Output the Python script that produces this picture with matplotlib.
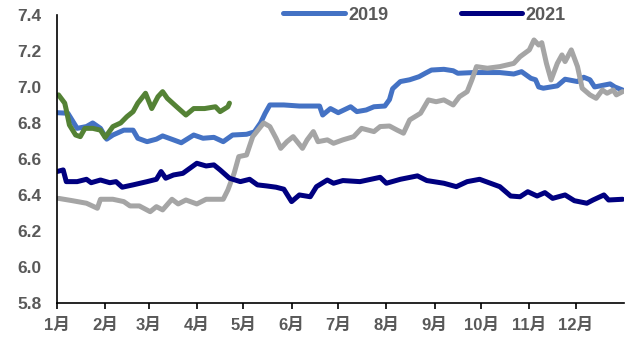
import matplotlib.pyplot as plt

plt.rcParams['font.family'] = ['Liberation Sans', 'Noto Sans CJK SC', 'DejaVu Sans']

# day-of-year sample points and exchange-rate values for each year
days_2019 = [0, 7, 13, 19, 23, 28, 32, 36, 43, 49, 52, 58, 64, 68, 75, 80, 88, 94, 101, 107,
             113, 122, 127, 131, 134, 137, 146, 156, 169, 171, 176, 181, 189, 193, 199, 204,
             211, 214, 216, 221, 227, 233, 237, 241, 249, 255, 258, 268, 285, 294, 299, 305,
             308, 310, 313, 322, 327, 335, 339, 343, 346, 356, 359, 364]
vals_2019 = [6.857, 6.854, 6.77, 6.78, 6.80, 6.77, 6.71, 6.733, 6.76, 6.76, 6.715, 6.696, 6.71,
             6.728, 6.706, 6.69, 6.733, 6.715, 6.72, 6.696, 6.733, 6.737, 6.75, 6.80, 6.854,
             6.90, 6.90, 6.894, 6.894, 6.844, 6.88, 6.857, 6.89, 6.863, 6.872, 6.89, 6.894,
             6.93, 6.99, 7.03, 7.04, 7.057, 7.076, 7.094, 7.098, 7.09, 7.076, 7.08, 7.08,
             7.072, 7.085, 7.048, 7.04, 7.0, 6.993, 7.006, 7.043, 7.03, 7.054, 7.04, 7.0,
             7.017, 7.0, 6.983]

days_2020 = [1, 10, 19, 26, 28, 36, 43, 47, 53, 60, 64, 68, 74, 78, 83, 90, 96, 107, 110, 114,
             117, 122, 126, 133, 137, 141, 144, 148, 152, 158, 161, 165, 168, 174, 178, 184,
             191, 196, 204, 208, 214, 219, 223, 227, 234, 239, 244, 249, 255, 259, 264, 267,
             270, 277, 285, 294, 298, 304, 307, 310, 312, 315, 318, 322, 325, 327, 331, 335,
             338, 343, 347, 351, 354, 358, 360, 364]
vals_2020 = [6.381, 6.368, 6.354, 6.326, 6.376, 6.376, 6.363, 6.339, 6.339, 6.307, 6.335,
             6.317, 6.376, 6.35, 6.372, 6.35, 6.376, 6.376, 6.428, 6.52, 6.613, 6.622, 6.724,
             6.80, 6.78, 6.715, 6.659, 6.696, 6.724, 6.659, 6.706, 6.752, 6.696, 6.706, 6.687,
             6.706, 6.724, 6.77, 6.752, 6.78, 6.783, 6.76, 6.743, 6.817, 6.854, 6.928, 6.918,
             6.928, 6.90, 6.946, 6.974, 7.039, 7.113, 7.104, 7.113, 7.131, 7.168, 7.206,
             7.261, 7.233, 7.246, 7.131, 7.039, 7.131, 7.178, 7.141, 7.206, 7.113, 6.993,
             6.956, 6.937, 6.983, 6.965, 6.983, 6.956, 6.974]

days_2021 = [0, 4, 6, 13, 19, 22, 28, 34, 38, 42, 49, 58, 64, 67, 70, 75, 81, 90, 96, 101,
             105, 111, 118, 124, 129, 135, 141, 146, 151, 156, 163, 167, 174, 178, 184, 195,
             208, 212, 221, 232, 238, 249, 257, 264, 272, 285, 292, 298, 303, 309, 314, 319,
             327, 333, 341, 345, 352, 355, 364]
vals_2021 = [6.53, 6.539, 6.474, 6.474, 6.487, 6.468, 6.483, 6.468, 6.474, 6.443, 6.456,
             6.474, 6.487, 6.53, 6.493, 6.511, 6.52, 6.576, 6.561, 6.567, 6.539, 6.493, 6.474,
             6.487, 6.456, 6.45, 6.443, 6.432, 6.363, 6.4, 6.39, 6.446, 6.483, 6.465, 6.48,
             6.474, 6.498, 6.465, 6.487, 6.506, 6.48, 6.465, 6.446, 6.474, 6.487, 6.446, 6.394,
             6.39, 6.418, 6.394, 6.413, 6.381, 6.4, 6.368, 6.354, 6.372, 6.4, 6.372, 6.376]

days_2022 = [1, 5, 6, 8, 12, 15, 18, 23, 28, 31, 36, 41, 45, 49, 52, 57, 61, 65, 68, 71, 77,
             83, 88, 95, 102, 105, 110, 111]
vals_2022 = [6.956, 6.91, 6.872, 6.789, 6.733, 6.724, 6.77, 6.77, 6.76, 6.72, 6.78, 6.80,
             6.835, 6.863, 6.91, 6.965, 6.88, 6.946, 6.974, 6.937, 6.89, 6.844, 6.88, 6.88,
             6.89, 6.863, 6.89, 6.91]

month_starts = [0, 31, 59, 90, 120, 151, 181, 212, 243, 273, 304, 334]
month_labels = ['1月', '2月', '3月', '4月', '5月', '6月', '7月', '8月', '9月', '10月', '11月', '12月']
y_ticks = [5.8, 6.0, 6.2, 6.4, 6.6, 6.8, 7.0, 7.2, 7.4]

fig = plt.figure(figsize=(6.26, 3.4), dpi=100)
ax = fig.add_axes([0.091, 0.109, 0.906, 0.847])

lw = 3.6
l19, = ax.plot(days_2019, vals_2019, color='#4472C4', lw=lw, label='2019', solid_capstyle='round')
ax.plot(days_2020, vals_2020, color='#A5A5A5', lw=lw, solid_capstyle='round')
l21, = ax.plot(days_2021, vals_2021, color='#000080', lw=lw, label='2021', solid_capstyle='round')
ax.plot(days_2022, vals_2022, color='#548235', lw=lw, solid_capstyle='round')

ax.set_xlim(0, 365)
ax.set_ylim(5.8, 7.4)
ax.set_yticks(y_ticks)
ax.set_yticklabels([f'{v:.1f}' for v in y_ticks])
ax.set_xticks(month_starts)
ax.set_xticklabels(month_labels)

for s in ['top', 'right']:
    ax.spines[s].set_visible(False)
for s in ['left', 'bottom']:
    ax.spines[s].set_color('black')
    ax.spines[s].set_linewidth(1.2)

ax.tick_params(axis='y', length=0, pad=11, labelsize=12.5, labelcolor='#595959')
ax.tick_params(axis='x', length=4, width=1.2, direction='out', pad=7, labelsize=12,
               labelcolor='#595959')
for t in ax.get_xticklabels() + ax.get_yticklabels():
    t.set_fontweight('bold')

leg = fig.legend(handles=[l19, l21], loc='center', bbox_to_anchor=(0.678, 0.955), ncol=2,
                 frameon=False, handlelength=3.4, handletextpad=0.2, columnspacing=4.0,
                 prop={'weight': 'bold', 'size': 13})
for t in leg.get_texts():
    t.set_color('#595959')

fig.savefig('out.png', dpi=100)
